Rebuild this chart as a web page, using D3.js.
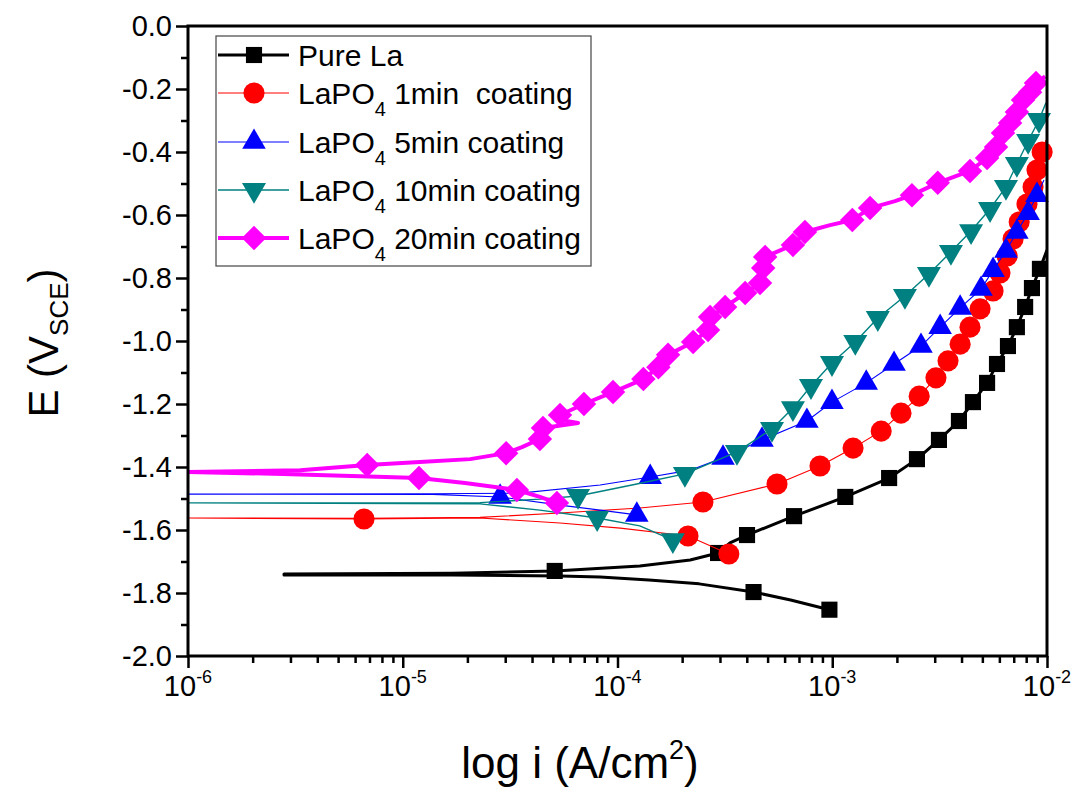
<!DOCTYPE html>
<html><head><meta charset="utf-8">
<script src="https://cdn.jsdelivr.net/npm/d3@7"></script>
<style>
body{margin:0;background:#fff}
text{font-family:"Liberation Sans",Arial,sans-serif;fill:#000}
</style>
</head><body>
<svg id="chart" width="1077" height="792"></svg>
<script>
// ---------- data (i in A/cm², E in V vs SCE) ----------
const xTickValues = [1e-6, 1e-5, 1e-4, 1e-3, 1e-2];
const xTickExponents = ["-6", "-5", "-4", "-3", "-2"];
const yTickValues = [0, -0.2, -0.4, -0.6, -0.8, -1.0, -1.2, -1.4, -1.6, -1.8, -2.0];
const yTickLabels = ["0.0", "-0.2", "-0.4", "-0.6", "-0.8", "-1.0", "-1.2", "-1.4", "-1.6", "-1.8", "-2.0"];
const seriesNames = ["Pure La", "1min  coating", "5min coating", "10min coating", "20min coating"];

const pureLaLine = [[9.7e-4,-1.853],[6.4e-4,-1.822],[4.3e-4,-1.797],[2.4e-4,-1.771],[1.4e-4,-1.759],[8.3e-5,-1.749],[5.4e-5,-1.746],[1.7e-5,-1.743],[2.8e-6,-1.743],
  [2.8e-6,-1.740],[1.7e-5,-1.737],[5.1e-5,-1.730],[1.27e-4,-1.714],[2.18e-4,-1.695],[2.94e-4,-1.673],[3.34e-4,-1.641],[4.01e-4,-1.616],[6.64e-4,-1.556],[1.15e-3,-1.495],[1.84e-3,-1.435],[2.48e-3,-1.375],[3.14e-3,-1.314],[3.89e-3,-1.254],[4.52e-3,-1.194],[5.26e-3,-1.133],[5.85e-3,-1.073],[6.58e-3,-1.016],[7.24e-3,-0.956],[7.91e-3,-0.892],[8.51e-3,-0.832],[9.27e-3,-0.771],[1.0e-2,-0.711]];
const pureLaMarks = [[9.7e-4,-1.853],[4.3e-4,-1.797],[5.1e-5,-1.730],[2.94e-4,-1.673],[4.01e-4,-1.616],[6.64e-4,-1.556],[1.15e-3,-1.495],[1.84e-3,-1.435],[2.48e-3,-1.375],[3.14e-3,-1.314],[3.89e-3,-1.254],[4.52e-3,-1.194],[5.26e-3,-1.133],[5.85e-3,-1.073],[6.58e-3,-1.016],[7.24e-3,-0.956],[7.91e-3,-0.892],[8.51e-3,-0.832],[9.27e-3,-0.771]];

const coat1Line = [[3.30e-4,-1.676],[2.13e-4,-1.619],[1.03e-4,-1.594],[5.4e-5,-1.578],[2.29e-5,-1.562],[6.6e-6,-1.565],[1.0e-6,-1.562],
  [6.6e-6,-1.563],[2.29e-5,-1.560],[5.4e-5,-1.546],[1.27e-4,-1.530],[2.50e-4,-1.511],[5.53e-4,-1.454],[8.77e-4,-1.397],[1.25e-3,-1.340],[1.69e-3,-1.286],[2.09e-3,-1.229],[2.54e-3,-1.175],[3.04e-3,-1.117],[3.46e-3,-1.063],[3.94e-3,-1.010],[4.38e-3,-0.956],[4.88e-3,-0.898],[5.61e-3,-0.841],[6.04e-3,-0.784],[6.52e-3,-0.730],[6.95e-3,-0.676],[7.42e-3,-0.622],[8.07e-3,-0.565],[8.61e-3,-0.511],[8.98e-3,-0.457],[9.49e-3,-0.400],[9.9e-3,-0.362]];
const coat1Marks = [[3.30e-4,-1.676],[2.13e-4,-1.619],[6.6e-6,-1.565],[2.50e-4,-1.511],[5.53e-4,-1.454],[8.77e-4,-1.397],[1.25e-3,-1.340],[1.69e-3,-1.286],[2.09e-3,-1.229],[2.54e-3,-1.175],[3.04e-3,-1.117],[3.46e-3,-1.063],[3.94e-3,-1.010],[4.38e-3,-0.956],[4.88e-3,-0.898],[5.61e-3,-0.841],[6.04e-3,-0.784],[6.52e-3,-0.730],[6.95e-3,-0.676],[7.42e-3,-0.622],[8.07e-3,-0.565],[8.61e-3,-0.511],[8.98e-3,-0.457],[9.49e-3,-0.400]];

const coat5Line = [[1.23e-4,-1.552],[8.3e-5,-1.537],[5.4e-5,-1.521],[2.84e-5,-1.495],[1.38e-5,-1.487],[1.0e-6,-1.486],
  [1.38e-5,-1.485],[3.52e-5,-1.483],[8.3e-5,-1.457],[1.42e-4,-1.432],[2.18e-4,-1.410],[3.10e-4,-1.371],[4.71e-4,-1.314],[7.62e-4,-1.254],[9.97e-4,-1.194],[1.44e-3,-1.133],[1.94e-3,-1.073],[2.59e-3,-1.016],[3.18e-3,-0.956],[3.94e-3,-0.895],[4.93e-3,-0.835],[5.61e-3,-0.775],[6.44e-3,-0.714],[7.24e-3,-0.654],[8.17e-3,-0.594],[8.98e-3,-0.537],[9.68e-3,-0.489]];
const coat5Marks = [[1.23e-4,-1.552],[2.84e-5,-1.495],[1.42e-4,-1.432],[3.10e-4,-1.371],[4.71e-4,-1.314],[7.62e-4,-1.254],[9.97e-4,-1.194],[1.44e-3,-1.133],[1.94e-3,-1.073],[2.59e-3,-1.016],[3.18e-3,-0.956],[3.94e-3,-0.895],[4.93e-3,-0.835],[5.61e-3,-0.775],[6.44e-3,-0.714],[7.24e-3,-0.654],[8.17e-3,-0.594],[8.98e-3,-0.537]];

const coat10Line = [[1.81e-4,-1.632],[1.27e-4,-1.587],[8.04e-5,-1.562],[4.35e-5,-1.537],[2.29e-5,-1.517],[1.0e-6,-1.514],
  [2.29e-5,-1.513],[4.35e-5,-1.502],[6.55e-5,-1.492],[1.23e-4,-1.454],[2.06e-4,-1.422],[3.60e-4,-1.352],[5.24e-4,-1.279],[6.56e-4,-1.213],[7.96e-4,-1.143],[9.97e-4,-1.070],[1.28e-3,-1.003],[1.63e-3,-0.927],[2.18e-3,-0.857],[2.82e-3,-0.787],[3.57e-3,-0.717],[4.43e-3,-0.651],[5.43e-3,-0.581],[6.44e-3,-0.511],[7.24e-3,-0.438],[8.17e-3,-0.365],[9.18e-3,-0.298],[9.89e-3,-0.244]];
const coat10Marks = [[1.81e-4,-1.632],[8.04e-5,-1.562],[6.55e-5,-1.492],[2.06e-4,-1.422],[3.60e-4,-1.352],[5.24e-4,-1.279],[6.56e-4,-1.213],[7.96e-4,-1.143],[9.97e-4,-1.070],[1.28e-3,-1.003],[1.63e-3,-0.927],[2.18e-3,-0.857],[2.82e-3,-0.787],[3.57e-3,-0.717],[4.43e-3,-0.651],[5.43e-3,-0.581],[6.44e-3,-0.511],[7.24e-3,-0.438],[8.17e-3,-0.365],[9.18e-3,-0.298]];

const coat20Line = [[5.22e-5,-1.514],[4.35e-5,-1.495],[3.40e-5,-1.473],[1.95e-5,-1.451],[1.19e-5,-1.435],[6.33e-6,-1.429],[2.77e-6,-1.422],[1.0e-6,-1.416],
  [3.33e-6,-1.410],[6.83e-6,-1.394],[1.20e-5,-1.384],[2.06e-5,-1.375],[3.03e-5,-1.356],[3.59e-5,-1.337],[4.35e-5,-1.311],[4.50e-5,-1.276],[6.55e-5,-1.260],[5.18e-5,-1.248],[5.40e-5,-1.235],[6.98e-5,-1.200],[9.53e-5,-1.162],[1.32e-4,-1.121],[1.55e-4,-1.083],[1.72e-4,-1.044],[2.25e-4,-1.003],[2.64e-4,-0.965],[2.70e-4,-0.924],[3.17e-4,-0.892],[3.93e-4,-0.848],[4.61e-4,-0.816],[4.77e-4,-0.768],[4.87e-4,-0.733],[6.56e-4,-0.695],[7.46e-4,-0.654],[9.77e-4,-0.632],[1.24e-3,-0.616],[1.50e-3,-0.578],[1.96e-3,-0.556],[2.35e-3,-0.537],[3.10e-3,-0.498],[4.38e-3,-0.460],[5.26e-3,-0.419],[5.79e-3,-0.384],[6.24e-3,-0.340],[6.73e-3,-0.308],[7.24e-3,-0.273],[7.73e-3,-0.235],[8.34e-3,-0.210],[8.89e-3,-0.181],[9.8e-3,-0.160]];
const coat20Marks = [[5.22e-5,-1.514],[3.40e-5,-1.473],[1.19e-5,-1.435],[6.83e-6,-1.394],[3.03e-5,-1.356],[4.35e-5,-1.311],[4.50e-5,-1.276],[5.40e-5,-1.235],[6.98e-5,-1.200],[9.53e-5,-1.162],[1.32e-4,-1.121],[1.55e-4,-1.083],[1.72e-4,-1.044],[2.25e-4,-1.003],[2.64e-4,-0.965],[2.70e-4,-0.924],[3.17e-4,-0.892],[3.93e-4,-0.848],[4.61e-4,-0.816],[4.77e-4,-0.768],[4.87e-4,-0.733],[6.56e-4,-0.695],[7.46e-4,-0.654],[1.24e-3,-0.616],[1.50e-3,-0.578],[2.35e-3,-0.537],[3.10e-3,-0.498],[4.38e-3,-0.460],[5.26e-3,-0.419],[5.79e-3,-0.384],[6.24e-3,-0.340],[6.73e-3,-0.308],[7.24e-3,-0.273],[7.73e-3,-0.235],[8.34e-3,-0.210],[8.89e-3,-0.181]];

// ---------- layout / style ----------
const L = 188, R = 1047, T = 26, B = 656;
const svg = d3.select("#chart");
const x = d3.scaleLog().domain([1e-6, 1e-2]).range([L, R]);
const y = d3.scaleLinear().domain([-2, 0]).range([B, T]);

const styles = [
  {line: pureLaLine, marks: pureLaMarks, color: "#000000", width: 3,   sym: d3.symbolSquare,   size: 260, rot: 0},
  {line: coat1Line,  marks: coat1Marks,  color: "#FF0000", width: 1.1, sym: d3.symbolCircle,   size: 350, rot: 0},
  {line: coat5Line,  marks: coat5Marks,  color: "#0000FF", width: 1.1, sym: d3.symbolTriangle, size: 240, rot: 0},
  {line: coat10Line, marks: coat10Marks, color: "#008080", width: 1.4, sym: d3.symbolTriangle, size: 250, rot: 180},
  {line: coat20Line, marks: coat20Marks, color: "#FF00FF", width: 4,   sym: d3.symbolSquare,   size: 300, rot: 45}
];

svg.append("defs").append("clipPath").attr("id", "plotclip")
  .append("rect").attr("x", L).attr("y", T).attr("width", R - L).attr("height", B - T);

const lineGen = d3.line().x(d => x(d[0])).y(d => y(d[1]));
const plot = svg.append("g");
styles.forEach(s => {
  plot.append("path").datum(s.line).attr("d", lineGen)
    .attr("fill", "none").attr("stroke", s.color).attr("stroke-width", s.width)
    .attr("stroke-linejoin", "round").attr("clip-path", "url(#plotclip)");
  plot.selectAll(null).data(s.marks).enter().append("path")
    .attr("d", d3.symbol().type(s.sym).size(s.size))
    .attr("transform", d => `translate(${x(d[0])},${y(d[1])}) rotate(${s.rot})`)
    .attr("fill", s.color);
});

// ---------- axes ----------
const minorX = [];
for (let e = -6; e < -2; e++) for (let k = 2; k <= 9; k++) minorX.push(k * Math.pow(10, e));
const minorY = d3.range(0, 10).map(i => -0.1 - 0.2 * i);

const axX = svg.append("g").attr("transform", `translate(0,${B})`)
  .call(d3.axisBottom(x).tickValues(xTickValues).tickSize(12).tickSizeOuter(0).tickFormat(""));
const axXm = svg.append("g").attr("transform", `translate(0,${B})`)
  .call(d3.axisBottom(x).tickValues(minorX).tickSize(7).tickSizeOuter(0).tickFormat(""));
const axY = svg.append("g").attr("transform", `translate(${L},0)`)
  .call(d3.axisLeft(y).tickValues(yTickValues).tickSize(12).tickSizeOuter(0).tickFormat(""));
const axYm = svg.append("g").attr("transform", `translate(${L},0)`)
  .call(d3.axisLeft(y).tickValues(minorY).tickSize(7).tickSizeOuter(0).tickFormat(""));
[axX, axXm, axY, axYm].forEach(a => {
  a.selectAll(".domain").remove();
  a.selectAll("line").attr("stroke", "#000").attr("stroke-width", 2.5);
});

// frame
svg.append("rect").attr("x", L).attr("y", T).attr("width", R - L).attr("height", B - T)
  .attr("fill", "none").attr("stroke", "#000").attr("stroke-width", 3);

// x tick labels
xTickValues.forEach((v, i) => {
  const t = svg.append("text").attr("x", x(v)).attr("y", 696).attr("text-anchor", "middle")
    .style("font-size", "29px");
  t.append("tspan").text("10");
  t.append("tspan").attr("dy", -13).style("font-size", "18px").text(xTickExponents[i]);
});
// y tick labels
yTickValues.forEach((v, i) => {
  svg.append("text").attr("x", 172).attr("y", y(v) + 10).attr("text-anchor", "end")
    .style("font-size", "29px").text(yTickLabels[i]);
});

// axis titles
const xt = svg.append("text").attr("x", 580).attr("y", 778).attr("text-anchor", "middle").style("font-size", "44px");
xt.append("tspan").text("log i (A/cm");
xt.append("tspan").attr("dy", -19).style("font-size", "27px").text("2");
xt.append("tspan").attr("dy", 19).text(")");

const yt = svg.append("text").attr("transform", "translate(58,343) rotate(-90)").attr("text-anchor", "middle").style("font-size", "42px");
yt.append("tspan").text("E (V");
yt.append("tspan").attr("dy", 10).style("font-size", "26px").text("SCE");
yt.append("tspan").attr("dy", -10).text(")");

// ---------- legend ----------
svg.append("rect").attr("x", 216).attr("y", 36).attr("width", 375).attr("height", 230)
  .attr("fill", "#fff").attr("stroke", "#444").attr("stroke-width", 1.2);
const rowY = [55, 93, 142, 190, 238];
styles.forEach((s, i) => {
  const cy = rowY[i];
  svg.append("line").attr("x1", 218).attr("x2", 289).attr("y1", cy).attr("y2", cy)
    .attr("stroke", s.color).attr("stroke-width", s.width);
  svg.append("path").attr("d", d3.symbol().type(s.sym).size(s.size))
    .attr("transform", `translate(254,${cy}) rotate(${s.rot})`).attr("fill", s.color);
  const t = svg.append("text").attr("x", 298).attr("y", cy + 11).style("font-size", "30px")
    .attr("xml:space", "preserve").style("white-space", "pre");
  if (i === 0) {
    t.text(seriesNames[i]);
  } else {
    t.append("tspan").text("LaPO");
    t.append("tspan").attr("dy", 12).style("font-size", "20px").text("4");
    t.append("tspan").attr("dy", -12).text(" " + seriesNames[i]);
  }
});
</script>
</body></html>
